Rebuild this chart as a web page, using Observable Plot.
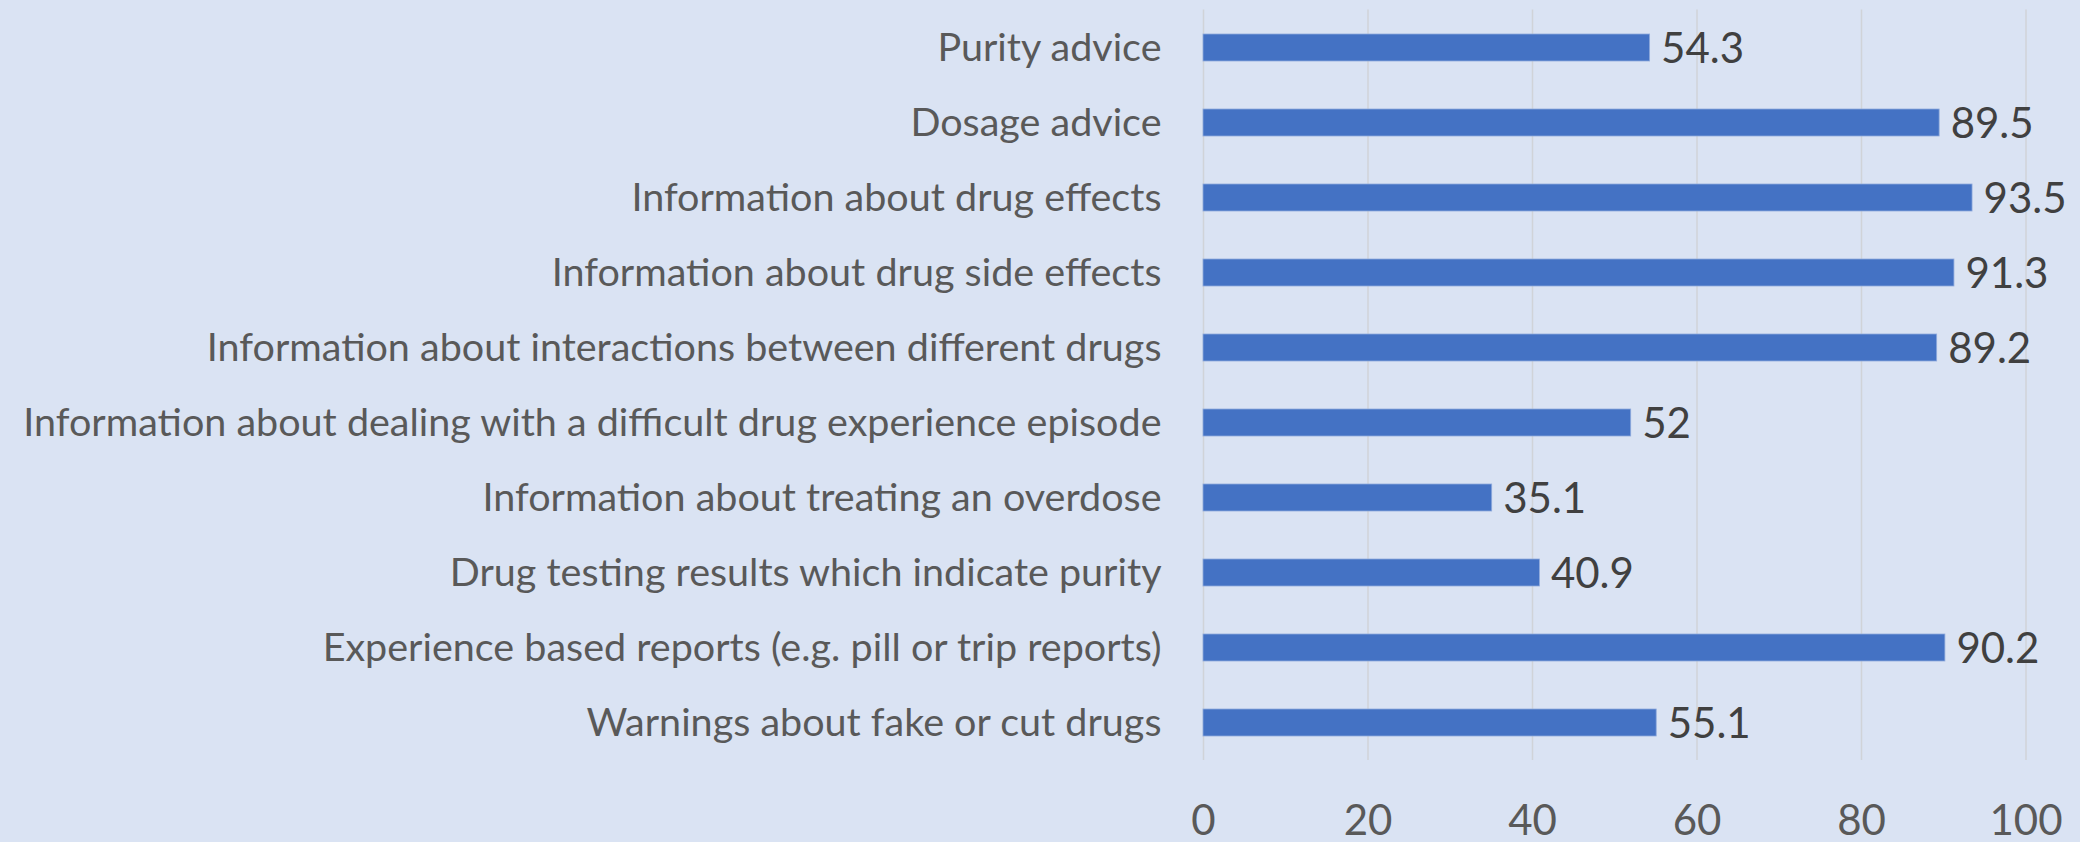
<!DOCTYPE html>
<html>
<head>
<meta charset="utf-8">
<script src="https://cdn.jsdelivr.net/npm/d3@7"></script>
<script src="https://cdn.jsdelivr.net/npm/@observablehq/plot@0.6"></script>
<style>
  html, body { margin: 0; padding: 0; background: #DAE3F3; }
  #chart svg { display: block; }
</style>
</head>
<body>
<div id="chart"></div>
<script>
const categories = [
  "Purity advice",
  "Dosage advice",
  "Information about drug effects",
  "Information about drug side effects",
  "Information about interactions between different drugs",
  "Information about dealing with a difficult drug experience episode",
  "Information about treating an overdose",
  "Drug testing results which indicate purity",
  "Experience based reports (e.g. pill or trip reports)",
  "Warnings about fake or cut drugs"
];
const values = [54.3, 89.5, 93.5, 91.3, 89.2, 52, 35.1, 40.9, 90.2, 55.1];
const xTicks = [0, 20, 40, 60, 80, 100];

const data = categories.map((c, i) => ({category: c, value: values[i]}));

const font = "Lato, 'Open Sans', sans-serif";

const chart = Plot.plot({
  width: 2080,
  height: 842,
  marginTop: 9.5,
  marginBottom: 82,
  marginLeft: 1203,
  marginRight: 54.5,
  style: {background: "#DAE3F3", fontFamily: font},
  x: {domain: [0, 100], ticks: xTicks},
  y: {domain: categories, paddingInner: 0.64, paddingOuter: 0.32},
  marks: [
    Plot.gridX(xTicks, {stroke: "#D0D3D8", strokeOpacity: 1, strokeWidth: 1.5}),
    Plot.barX(data, {x: "value", y: "category", fill: "#4472C4", stroke: "#8FAADC", strokeWidth: 0.8}),
    Plot.text(data, {x: "value", y: "category", text: d => String(d.value), textAnchor: "start", dx: 11, dy: 2, fontSize: 42, fill: "#404040"}),
    Plot.axisY({tickSize: 0, tickPadding: 42, fontSize: 39.5, color: "#595959", label: null}),
    Plot.axisX(xTicks, {tickSize: 0, tickPadding: 45, fontSize: 42, color: "#595959", label: null, tickFormat: d => String(d)})
  ]
});
document.getElementById("chart").appendChild(chart);
</script>
</body>
</html>
